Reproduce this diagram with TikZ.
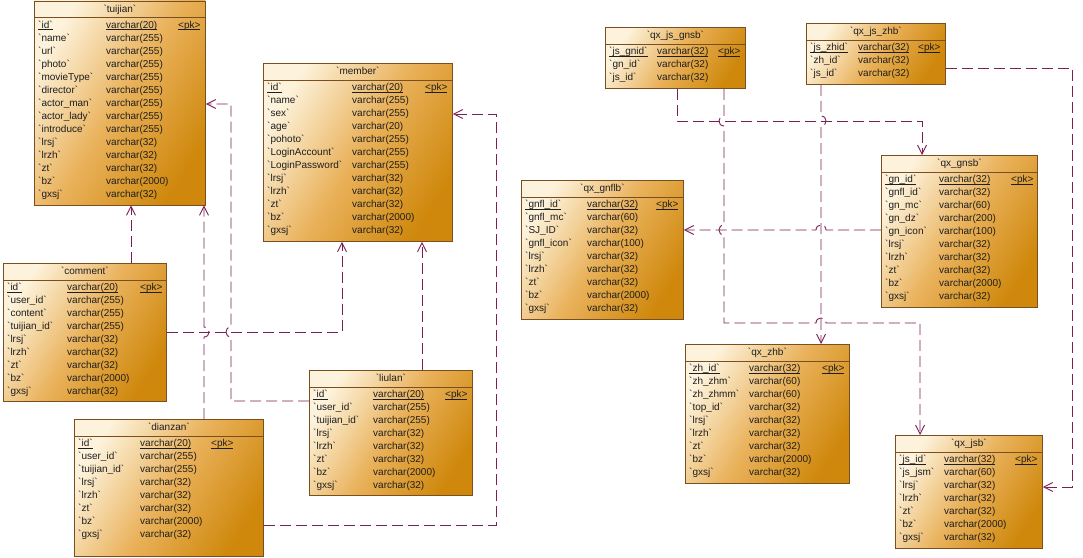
\documentclass[tikz,border=0pt]{standalone}
\usepackage{fontspec}
\setmainfont{Liberation Sans}
\usetikzlibrary{arrows.meta,calc}
\definecolor{tlight}{HTML}{FDF3DC}
\definecolor{tmid}{HTML}{E9B15A}
\definecolor{tdark}{HTML}{CF880C}
\definecolor{tline}{HTML}{7A4E1E}
\definecolor{fkline}{HTML}{7A1E55}
\definecolor{txt}{HTML}{1E1E1E}
\newcommand\fld[1]{\textasciigrave#1\textasciigrave}
\newcommand\ulx[1]{\setbox0\hbox{#1}\rlap{\rule[-1.4pt]{\wd0}{0.6pt}}\box0}
\tikzset{
  tblbox/.style={draw=tline, line width=0.8pt, inner sep=0pt,
    top color=tlight, bottom color=tdark, middle color=tmid, shading angle=58},
  cell/.style={inner sep=0pt, anchor=west, text height=7.5pt, text depth=2pt,
    font=\fontsize{10}{12}\selectfont, text=txt},
  fk/.style={draw=fkline, line width=0.9pt, dash pattern=on 11pt off 5pt,
    -{Straight Barb[length=9pt,width=9pt]}}
}
\newcommand\erTable[9]{%
  \node[tblbox, minimum width=#4pt, minimum height=#5pt, anchor=north west] (#1) at (#2,#3) {};
  \node[cell, anchor=center] (#1-title) at ($(#1.north)+(0,9)$) {\fld{#6}};
  \draw[tline, line width=0.7pt] ($(#1.north west)+(0,17)$) -- ($(#1.north east)+(0,17)$);
  \foreach \f/\t [count=\i from 0] in {#9} {%
    \ifnum\i=0
      \node[cell] (#1-n\i) at ($(#1.north west)+(4,25)$) {\ulx{\fld{\f}}};
      \node[cell] (#1-t\i) at ($(#1.north west)+(#7,25)$) {\ulx{varchar(\t)}};
      \node[cell] (#1-pk) at ($(#1.north west)+(#8,25)$) {\ulx{\textless pk\textgreater}};
    \else
      \node[cell] (#1-n\i) at ($(#1.north west)+(4,25+13*\i)$) {\fld{\f}};
      \node[cell] (#1-t\i) at ($(#1.north west)+(#7,25+13*\i)$) {varchar(\t)};
    \fi
  }%
}
\begin{document}
\begin{tikzpicture}[x=1pt,y=-1pt]
\useasboundingbox[fill=white] (0,0) rectangle (1083,557);

\erTable{tuijian}{34}{0.5}{171}{204}{tuijian}{72}{144}{id/20, name/255, url/255, photo/255, movieType/255, director/255, actor\_man/255, actor\_lady/255, introduce/255, lrsj/32, lrzh/32, zt/32, bz/2000, gxsj/32}
\erTable{member}{263}{63}{189}{178}{member}{89}{162}{id/20, name/255, sex/255, age/20, pohoto/255, LoginAccount/255, LoginPassword/255, lrsj/32, lrzh/32, zt/32, bz/2000, gxsj/32}
\erTable{comment}{3}{263}{163}{138}{comment}{64}{137}{id/20, user\_id/255, content/255, tuijian\_id/255, lrsj/32, lrzh/32, zt/32, bz/2000, gxsj/32}
\erTable{dianzan}{74}{419}{189}{137}{dianzan}{66}{137}{id/20, user\_id/255, tuijian\_id/255, lrsj/32, lrzh/32, zt/32, bz/2000, gxsj/32}
\erTable{liulan}{309}{370}{163}{125}{liulan}{64}{136}{id/20, user\_id/255, tuijian\_id/255, lrsj/32, lrzh/32, zt/32, bz/2000, gxsj/32}
\erTable{jsgn}{605}{27}{140}{61}{qx\_js\_gnsb}{52}{113}{js\_gnid/32, gn\_id/32, js\_id/32}
\erTable{jszh}{806}{23}{139}{61}{qx\_js\_zhb}{52}{112}{js\_zhid/32, zh\_id/32, js\_id/32}
\erTable{gnsb}{881}{155}{156}{152}{qx\_gnsb}{58}{130}{gn\_id/32, gnfl\_id/32, gn\_mc/60, gn\_dz/200, gn\_icon/100, lrsj/32, lrzh/32, zt/32, bz/2000, gxsj/32}
\erTable{gnflb}{521}{180}{162}{139}{qx\_gnflb}{66}{135}{gnfl\_id/32, gnfl\_mc/60, SJ\_ID/32, gnfl\_icon/100, lrsj/32, lrzh/32, zt/32, bz/2000, gxsj/32}
\erTable{zhb}{685}{344}{164}{139}{qx\_zhb}{64}{137}{zh\_id/32, zh\_zhm/60, zh\_zhmm/60, top\_id/32, lrsj/32, lrzh/32, zt/32, bz/2000, gxsj/32}
\erTable{jsb}{895}{435}{147}{113}{qx\_jsb}{49}{120}{js\_id/32, js\_jsm/60, lrsj/32, lrzh/32, zt/32, bz/2000, gxsj/32}

\coordinate (X131) at (131,0);
\coordinate (X204) at (204,0);
\coordinate (X342) at (342,0);
\coordinate (X422) at (422,0);
\coordinate (Y104) at (0,104);
\coordinate (Y114) at (0,114);
\coordinate (Y332) at (0,332);
\coordinate (Y401) at (0,401);
\coordinate (Y525) at (0,525);
\coordinate (X677) at (677,0);
\coordinate (X724) at (724,0);
\coordinate (X821) at (821,0);
\coordinate (X920) at (920,0);
\coordinate (X922) at (922,0);
\coordinate (Y68) at (0,68);
\coordinate (Y230) at (0,230);
\coordinate (Y487) at (0,487);

\draw[fk] (comment.north -| X131) -- (tuijian.south -| X131);
\draw[fk] (dianzan.north -| X204) -- (204,337) .. controls (210.7,337) and (210.7,327) .. (204,327) -- (tuijian.south -| X204);
\draw[fk] (liulan.west |- Y401) -- (231,401) -- (231,337) .. controls (224.3,337) and (224.3,327) .. (231,327) -- (231,104) -- (tuijian.east |- Y104);
\draw[fk] (liulan.north -| X422) -- (member.south -| X422);
\draw[fk] (dianzan.east |- Y525) -- (496,525) -- (496,114) -- (member.east |- Y114);
\draw[fk] (comment.east |- Y332) -- (342,332) -- (member.south -| X342);

\draw[fk] (jsgn.south -| X677) -- (677,121) -- (922,121) -- (gnsb.north -| X922);
\draw[fk] (jsgn.south -| X724) -- (724,116) .. controls (717.3,116) and (717.3,126) .. (724,126) -- (724,225) .. controls (717.3,225) and (717.3,235) .. (724,235) -- (724,323) -- (816,323) .. controls (816,316.3) and (826,316.3) .. (826,323) -- (920,323) -- (jsb.north -| X920);
\draw[fk] (jszh.south -| X821) -- (821,116) .. controls (827.7,116) and (827.7,126) .. (821,126) -- (zhb.north -| X821);
\draw[fk] (jszh.east |- Y68) -- (1072,68) -- (1072,487) -- (jsb.east |- Y487);
\draw[fk] (gnsb.west |- Y230) -- (826,230) .. controls (826,223.3) and (816,223.3) .. (816,230) -- (gnflb.east |- Y230);
\end{tikzpicture}
\end{document}
